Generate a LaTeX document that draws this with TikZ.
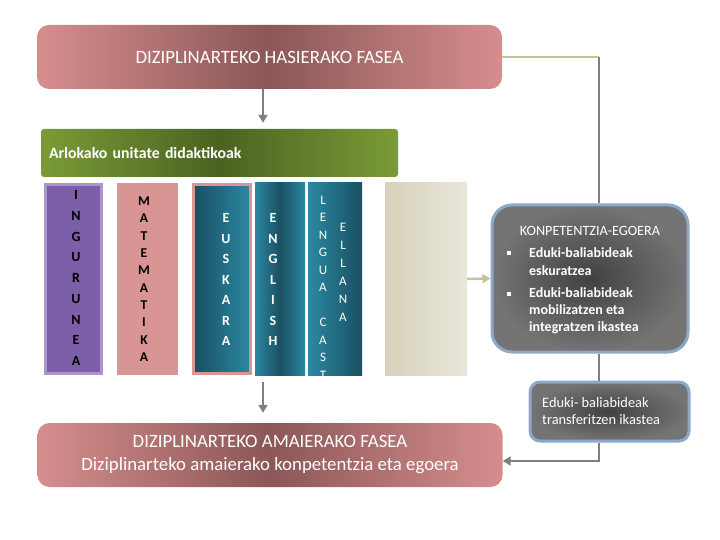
\documentclass[tikz,border=0pt]{standalone}
\usepackage{fontspec}
\setmainfont{Carlito}
\usetikzlibrary{arrows.meta}
\definecolor{rosa}{HTML}{D68E8D}
\definecolor{rosadark}{HTML}{8B5757}
\definecolor{berde}{HTML}{7B9B37}
\definecolor{berdedark}{HTML}{4A6320}
\definecolor{more}{HTML}{7C5FA8}
\definecolor{moreline}{HTML}{A996CB}
\definecolor{rosacol}{HTML}{D99594}
\definecolor{teal}{HTML}{2B88A2}
\definecolor{tealdark}{HTML}{1A5062}
\definecolor{beisa}{HTML}{D6D2BA}
\definecolor{beisb}{HTML}{E9E7DB}
\definecolor{gris}{HTML}{7F7F7F}
\definecolor{grisdark}{HTML}{414141}
\definecolor{grisargi}{HTML}{747474}
\definecolor{urdin}{HTML}{8EA8C8}
\definecolor{lerro}{HTML}{C6C29E}
\tikzset{
  fase/.style={rounded corners=12pt, minimum width=465pt, minimum height=64pt, left color=rosa, right color=rosa, middle color=rosadark, text=white, align=center, font=\fontsize{18.8}{23}\selectfont},
  arlo/.style={rounded corners=3pt, minimum width=357pt, minimum height=48pt, inner xsep=8pt, text width=341pt, align=left, left color=berde, right color=berde, middle color=berdedark, text=white, font=\fontsize{15.8}{18}\selectfont\bfseries},
  zutabe/.style={inner sep=0pt, minimum height=192pt},
  hizki/.style={align=center, inner sep=0pt},
  kutxa/.style={rounded corners=#1, draw=urdin, line width=3pt, inner color=grisdark, outer color=grisargi},
  testu/.style={text=white, inner sep=0pt},
  konektore/.style={draw=gris, line width=2.5pt},
  gezi/.style={konektore, -{Triangle[length=8pt,width=9pt]}}
}
\begin{document}
\begin{tikzpicture}[x=1pt, y=-1pt]
\useasboundingbox (0,0) rectangle (720,540);
\node[fase] at (269.5,57) (101) {DIZIPLINARTEKO HASIERAKO FASEA};
\node[arlo] at (219.5,153) (102) {Arlokako unitate didaktikoak};
\node[zutabe, fill=more, draw=moreline, line width=3pt, minimum width=56pt, minimum height=189pt] at (73.5,279) (201) {};
\node[zutabe, fill=rosacol, minimum width=61pt] at (147.5,279) (202) {};
\node[zutabe, left color=tealdark, right color=teal, draw=rosacol, line width=3pt, minimum width=57pt, minimum height=189pt] at (222,279) (203) {};
\node[zutabe, left color=teal, right color=teal, middle color=tealdark, minimum width=50pt] at (280,279) (204) {};
\node[zutabe, left color=teal, right color=tealdark, minimum width=54pt] at (335,279) (205) {};
\node[zutabe, left color=beisa, right color=beisb, minimum width=82pt] at (426,279) (206) {};
\node[hizki, font=\fontsize{14}{20.75}\selectfont\bfseries] at (76,278) (211) {I\\N\\G\\U\\R\\U\\N\\E\\A};
\node[hizki, font=\fontsize{13.5}{17.35}\selectfont\bfseries] at (144,279) (212) {M\\A\\T\\E\\M\\A\\T\\I\\K\\A};
\node[hizki, text=white, font=\fontsize{14}{20.5}\selectfont\bfseries] at (226,279.5) (213) {E\\U\\S\\K\\A\\R\\A};
\node[hizki, text=white, font=\fontsize{14}{20.5}\selectfont\bfseries] at (273,279.5) (214) {E\\N\\G\\L\\I\\S\\H};
\begin{scope}
\clip (205.north west) rectangle (205.south east);
\node[hizki, text=white, font=\fontsize{13}{17.5}\selectfont] at (323,287.5) (215) {L\\E\\N\\G\\U\\A\\[17.5pt]C\\A\\S\\T};
\node[hizki, text=white, font=\fontsize{13}{18}\selectfont] at (343,272) (216) {E\\L\\L\\A\\N\\A};
\end{scope}
\node[kutxa=20pt, minimum width=196pt, minimum height=147pt] at (590,278.5) (301) {};
\node[testu, font=\fontsize{14.2}{16}\selectfont] at (590,231) (302) {KONPETENTZIA-EGOERA};
\node[testu] at (509,253) (303) {\rule{4.5pt}{4.5pt}};
\node[testu, anchor=west, align=left, font=\fontsize{14}{18}\selectfont\bfseries] at (529,262) (304) {Eduki-baliabideak\\eskuratzea};
\node[testu] at (509,294) (305) {\rule{4.5pt}{4.5pt}};
\node[testu, anchor=west, align=left, font=\fontsize{14}{17}\selectfont\bfseries] at (529,311) (306) {Eduki-baliabideak\\mobilizatzen eta\\integratzen ikastea};
\node[kutxa=10pt, minimum width=159pt, minimum height=59pt] at (609.5,411.5) (307) {};
\node[testu, anchor=west, align=left, font=\fontsize{14.4}{17}\selectfont] at (542,411.5) (308) {Eduki- baliabideak\\transferitzen ikastea};
\node[fase] at (270,455) (401) {DIZIPLINARTEKO AMAIERAKO FASEA\\Diziplinarteko amaierako konpetentzia eta egoera};
\coordinate (b1) at (599,57);
\coordinate (ax) at (263,100);
\draw[gezi, shorten >=6pt] (101.south -| ax) -- (102.north -| ax);
\draw[gezi, shorten <=7pt, shorten >=10pt] (204.south -| ax) -- (401.north -| ax);
\draw[konektore, draw=lerro] (101.east) -- (b1);
\draw[konektore] (b1) -- (b1 |- 301.north);
\draw[konektore] (301.south -| b1) -- (307.north -| b1);
\draw[gezi] (307.south -| b1) |- ([yshift=-6pt]401.east);
\draw[gezi, draw=lerro, fill=lerro] (206.east) -- (301.west);
\end{tikzpicture}
\end{document}
